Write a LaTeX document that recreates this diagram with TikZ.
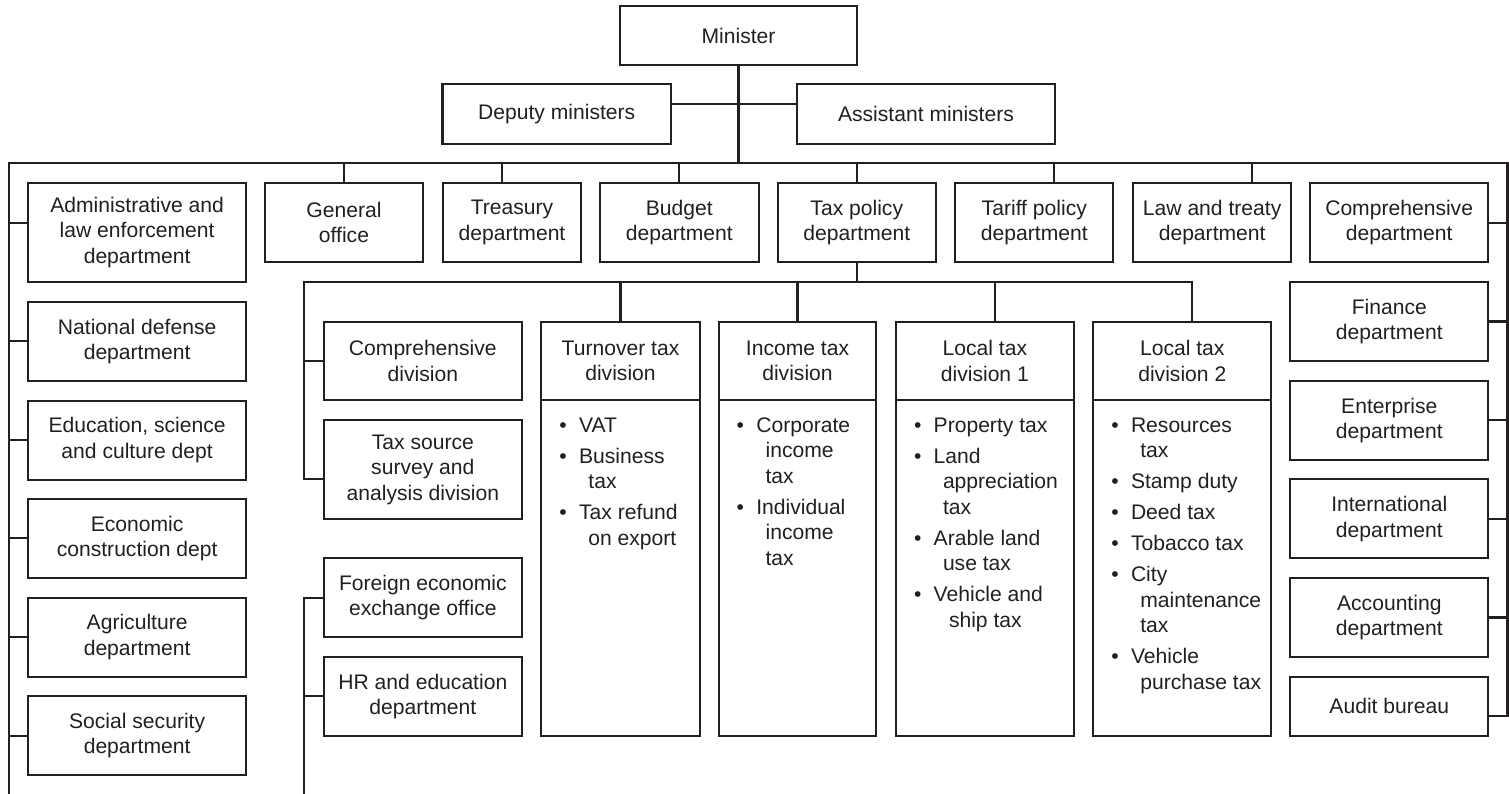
\documentclass[tikz,border=0pt]{standalone}
\usepackage{fontspec}
\setmainfont{Liberation Sans}
\definecolor{ink}{HTML}{231F20}

% box with corners (x1,y1)-(x2,y2), y measured downwards
\newcommand\orgbox[6]{%
  \node[ob, minimum width={(#4-#2)*1pt}, minimum height={(#5-#3)*1pt}]
    (#1) at ({(#2+#4)/2},{(#3+#5)/2}) {#6};}
\newcommand\itm[1]{\makebox[19.7pt][l]{\textbullet}#1}
\newcommand\cnt[1]{\hspace*{29pt}#1}

\begin{document}
\begin{tikzpicture}[x=1pt,y=-1pt,
  ob/.style={draw=ink, line width=2.1pt, inner sep=0pt, outer sep=0pt,
    align=center, text=ink, font=\fontsize{21.1pt}{25.5pt}\selectfont},
  conn/.style={draw=ink, line width=2.1pt},
  listtext/.style={anchor=north west, align=left, inner sep=0pt, text=ink,
    font=\fontsize{21.1pt}{25.5pt}\selectfont}]
\useasboundingbox (0,0) rectangle (1509,794);

% top management
\orgbox{minister}{620}{6}{857}{65}{Minister}
\orgbox{deputy}{442.5}{84.3}{671}{144}{Deputy ministers}
\orgbox{assistant}{797}{84.3}{1055}{144}{Assistant ministers}

% first row of departments
\orgbox{general}{265}{183.3}{423}{262}{General\\office}
\orgbox{treasury}{442.7}{183.3}{581.3}{262}{Treasury\\department}
\orgbox{budget}{600}{183.3}{758.7}{262}{Budget\\department}
\orgbox{taxpol}{777.6}{183.3}{936}{262}{Tax policy\\department}
\orgbox{tariff}{955.3}{183.3}{1113.3}{262}{Tariff policy\\department}
\orgbox{law}{1133.3}{183.3}{1291}{262}{Law and treaty\\department}
\orgbox{compdept}{1310}{183.3}{1488.3}{262}{Comprehensive\\department}

% left column
\orgbox{admin}{28.3}{183.3}{246}{281.7}{Administrative and\\law enforcement\\department}
\orgbox{natdef}{28.3}{302}{246}{380.7}{National defense\\department}
\orgbox{edu}{28.3}{400.7}{246}{479.7}{Education, science\\and culture dept}
\orgbox{econ}{28.3}{499}{246}{577.7}{Economic\\construction dept}
\orgbox{agri}{28.3}{597.7}{246}{676.7}{Agriculture\\department}
\orgbox{social}{28.3}{696.3}{246}{775}{Social security\\department}

% right column
\orgbox{finance}{1290.3}{282}{1488.3}{361}{Finance\\department}
\orgbox{enterprise}{1290.3}{380.7}{1488.3}{460}{Enterprise\\department}
\orgbox{intl}{1290.3}{479.3}{1488.3}{558.3}{International\\department}
\orgbox{acct}{1290.3}{578}{1488.3}{657}{Accounting\\department}
\orgbox{audit}{1290.3}{676.7}{1488.3}{735.7}{Audit bureau}

% divisions of the tax policy department
\orgbox{compdiv}{324}{321.7}{521.7}{400.3}{Comprehensive\\division}
\orgbox{taxsrc}{324}{420.3}{521.7}{518.7}{Tax source\\survey and\\analysis division}
\orgbox{foreign}{324}{558}{521.7}{637.3}{Foreign economic\\exchange office}
\orgbox{hr}{324}{657}{521.7}{735.7}{HR and education\\department}

\orgbox{turnoverH}{541.4}{321.7}{699.6}{400.3}{Turnover tax\\division}
\orgbox{turnoverB}{541.4}{400.3}{699.6}{735.7}{}
\orgbox{incomeH}{718.6}{321.7}{876.4}{400.3}{Income tax\\division}
\orgbox{incomeB}{718.6}{400.3}{876.4}{735.7}{}
\orgbox{localAH}{896}{321.7}{1073.7}{400.3}{Local tax\\division 1}
\orgbox{localAB}{896}{400.3}{1073.7}{735.7}{}
\orgbox{localBH}{1093.3}{321.7}{1271.3}{400.3}{Local tax\\division 2}
\orgbox{localBB}{1093.3}{400.3}{1271.3}{735.7}{}

% tax lists (first baseline at y = 432)
\node[listtext] (turnoverL) at ({541.4+17.8},414.15)
  {\strut\itm{VAT}\\[5.5pt]\itm{Business}\\\cnt{tax}\\[5.5pt]\itm{Tax refund}\\\cnt{on export}};
\node[listtext] (incomeL) at ({718.6+17.8},414.15)
  {\strut\itm{Corporate}\\\cnt{income}\\\cnt{tax}\\[5.5pt]\itm{Individual}\\\cnt{income}\\\cnt{tax}};
\node[listtext] (localAL) at ({896+17.8},414.15)
  {\strut\itm{Property tax}\\[5.5pt]\itm{Land}\\\cnt{appreciation}\\\cnt{tax}\\[5.5pt]%
   \itm{Arable land}\\\cnt{use tax}\\[5.5pt]\itm{Vehicle and}\\\hspace*{35pt}ship tax};
\node[listtext] (localBL) at ({1093.3+17.8},414.15)
  {\strut\itm{Resources}\\\cnt{tax}\\[5.5pt]\itm{Stamp duty}\\[5.5pt]\itm{Deed tax}\\[5.5pt]%
   \itm{Tobacco tax}\\[5.5pt]\itm{City}\\\cnt{maintenance}\\\cnt{tax}\\[5.5pt]%
   \itm{Vehicle}\\\cnt{purchase tax}};

% main bus lines
\coordinate (busL) at (9,163.3);
\coordinate (busR) at (1507.5,163.3);
\coordinate (leftEnd) at (9,794);
\coordinate (auditConn) at ([yshift=-9.5pt]audit.east);
\draw[conn] (leftEnd) -- (busL) -- (busR) -- (busR |- auditConn) -- (auditConn);

% minister, deputies and assistants
\draw[conn] (minister.south) -- (minister.south |- busL);
\draw[conn] ([yshift=9.9pt]deputy.east) -- ([yshift=9.9pt]assistant.west);

% first row
\draw[conn] (general.north) -- (general.north |- busL);
\draw[conn] ([xshift=59.3pt]treasury.north west) -- ([xshift=59.3pt]treasury.north west |- busL);
\draw[conn] (budget.north) -- (budget.north |- busL);
\draw[conn] (taxpol.north) -- (taxpol.north |- busL);
\draw[conn] ([xshift=99pt]tariff.north west) -- ([xshift=99pt]tariff.north west |- busL);
\draw[conn] ([xshift=118.4pt]law.north west) -- ([xshift=118.4pt]law.north west |- busL);
\draw[conn] (compdept.east) -- (compdept.east -| busR);

% left column
\draw[conn] (admin.west |- general.west) -- (busL |- general.west);
\foreach \n in {natdef,edu,econ,agri,social}
  \draw[conn] (\n.west) -- (\n.west -| busL);

% right column
\foreach \n in {finance,enterprise,intl,acct}
  \draw[conn] (\n.east) -- (\n.east -| busR);

% tax policy sub-bus
\coordinate (subL) at (304.3,282.3);
\coordinate (subR) at (1192.3,282.3);
\coordinate (subEnd) at (304.3,794);
\draw[conn] (taxpol.south) -- (taxpol.south |- subL);
\draw[conn] ([yshift=-9.5pt]taxsrc.west) -| (subL) -- (subR) -- (subR |- localBH.north);
\draw[conn] (compdiv.west) -- (compdiv.west -| subL);
\draw[conn] (turnoverH.north) -- (turnoverH.north |- subL);
\draw[conn] (incomeH.north) -- (incomeH.north |- subL);
\draw[conn] ([xshift=10pt]localAH.north) -- ([xshift=10pt]localAH.north |- subL);
\draw[conn] (foreign.west) -| (subEnd);
\draw[conn] (hr.west) -- (hr.west -| subEnd);
\end{tikzpicture}
\end{document}
